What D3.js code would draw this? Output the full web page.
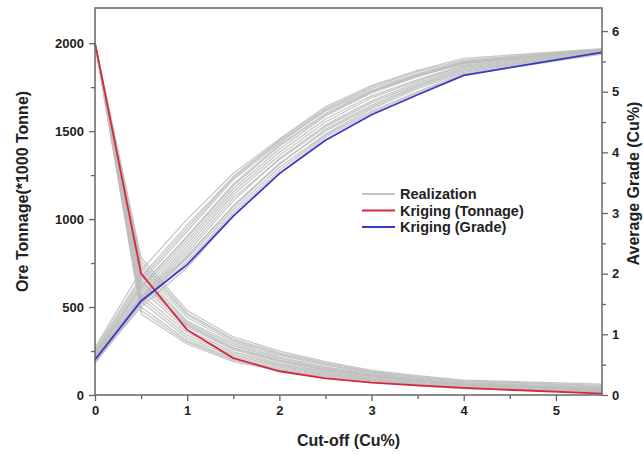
<!DOCTYPE html>
<html>
<head>
<meta charset="utf-8">
<script src="https://cdn.jsdelivr.net/npm/d3@7"></script>
<style>
  body { margin: 0; background: #fff; }
  text { font-family: "Liberation Sans", Arial, sans-serif; font-weight: bold; fill: #222; }
</style>
</head>
<body>
<script>
const width = 643;
const height = 455;

// cut-off grades (Cu%)
const cutoffs = [0, 0.5, 1, 1.5, 2, 2.5, 3, 3.5, 4, 5.5];

// kriging results
const krigTonnage = [2000, 690, 370, 210, 135, 95, 70, 55, 40, 8];
const krigGrade = [0.58, 1.55, 2.15, 2.95, 3.65, 4.2, 4.62, 4.95, 5.27, 5.65];

// realizations, tonnage (*1000 t)
const realTonnage = [
  [2000, 780, 480, 330, 250, 190, 140, 110, 85, 62],
  [2000, 720, 440, 300, 225, 170, 125, 95, 70, 45],
  [2000, 650, 400, 270, 200, 150, 110, 82, 60, 35],
  [2000, 600, 370, 245, 180, 135, 98, 72, 52, 28],
  [2000, 550, 340, 225, 165, 120, 88, 64, 45, 22],
  [2000, 500, 310, 205, 150, 110, 80, 58, 40, 18],
  [2000, 460, 290, 190, 138, 100, 72, 52, 36, 15],
  [2000, 700, 420, 290, 215, 160, 118, 90, 66, 40],
  [2000, 620, 385, 258, 190, 142, 104, 78, 56, 30],
  [2000, 760, 465, 318, 240, 182, 134, 104, 80, 55],
  [2000, 530, 325, 215, 158, 116, 84, 60, 42, 20],
  [2000, 680, 410, 280, 208, 155, 114, 86, 63, 38],
  [2000, 480, 300, 198, 144, 105, 76, 55, 38, 16],
  [2000, 740, 455, 310, 232, 176, 130, 100, 76, 50],
  [2000, 570, 355, 235, 172, 128, 93, 68, 48, 25],
  [2000, 640, 395, 265, 196, 146, 107, 80, 58, 32]
];

// realizations, average grade (Cu%)
const realGrade = [
  [0.55, 1.45, 2.10, 2.95, 3.65, 4.25, 4.65, 4.98, 5.28, 5.62],
  [0.60, 1.60, 2.35, 3.20, 3.90, 4.45, 4.85, 5.15, 5.40, 5.66],
  [0.65, 1.75, 2.55, 3.40, 4.05, 4.60, 4.98, 5.25, 5.47, 5.68],
  [0.70, 1.85, 2.70, 3.55, 4.15, 4.70, 5.05, 5.30, 5.50, 5.70],
  [0.58, 1.55, 2.25, 3.05, 3.75, 4.30, 4.72, 5.05, 5.32, 5.64],
  [0.62, 1.65, 2.45, 3.30, 3.95, 4.50, 4.90, 5.18, 5.42, 5.67],
  [0.75, 1.95, 2.80, 3.60, 4.20, 4.72, 5.08, 5.33, 5.52, 5.70],
  [0.52, 1.50, 2.20, 3.00, 3.70, 4.28, 4.68, 5.00, 5.30, 5.63],
  [0.68, 1.80, 2.60, 3.45, 4.10, 4.62, 5.00, 5.26, 5.46, 5.68],
  [0.63, 1.70, 2.50, 3.35, 4.00, 4.55, 4.93, 5.20, 5.44, 5.67],
  [0.57, 1.58, 2.30, 3.10, 3.80, 4.38, 4.78, 5.10, 5.36, 5.65],
  [0.72, 1.90, 2.75, 3.58, 4.18, 4.68, 5.02, 5.28, 5.49, 5.69],
  [0.60, 1.62, 2.40, 3.25, 3.88, 4.42, 4.82, 5.12, 5.38, 5.65],
  [0.66, 1.78, 2.62, 3.48, 4.12, 4.64, 5.01, 5.27, 5.48, 5.68],
  [0.54, 1.52, 2.28, 3.12, 3.82, 4.35, 4.75, 5.08, 5.34, 5.64],
  [0.78, 2.05, 2.90, 3.65, 4.22, 4.75, 5.10, 5.35, 5.55, 5.71]
];

const xTicks = [0, 1, 2, 3, 4, 5];
const tonTicks = [0, 500, 1000, 1500, 2000];
const gradeTicks = [0, 1, 2, 3, 4, 5, 6];

const legendItems = [
  { name: 'Realization', color: '#c4c4c4' },
  { name: 'Kriging (Tonnage)', color: '#d8283f' },
  { name: 'Kriging (Grade)', color: '#3838c8' }
];

const margin = { left: 95, right: 41, top: 8, bottom: 60 };

const x = d3.scaleLinear().domain([0, 5.5]).range([margin.left, width - margin.right]);
const yTon = d3.scaleLinear().domain([0, 2200]).range([height - margin.bottom, margin.top]);
const yGrade = d3.scaleLinear().domain([0, 6.38]).range([height - margin.bottom, margin.top]);

const svg = d3.select('body').append('svg')
  .attr('width', width)
  .attr('height', height);

const lineTon = d3.line().x((d, i) => x(cutoffs[i])).y(d => yTon(d));
const lineGrade = d3.line().x((d, i) => x(cutoffs[i])).y(d => yGrade(d));

// grey realizations
const real = svg.append('g')
  .attr('fill', 'none')
  .attr('stroke', '#bdbdbd')
  .attr('stroke-width', 1.3)
  .attr('stroke-opacity', 0.85);

real.selectAll('path.t')
  .data(realTonnage)
  .enter()
  .append('path')
  .attr('class', 't')
  .attr('d', lineTon);

real.selectAll('path.g')
  .data(realGrade)
  .enter()
  .append('path')
  .attr('class', 'g')
  .attr('d', lineGrade);

// kriging lines
svg.append('path')
  .attr('d', lineTon(krigTonnage))
  .attr('fill', 'none')
  .attr('stroke', '#d8283f')
  .attr('stroke-width', 1.8);

svg.append('path')
  .attr('d', lineGrade(krigGrade))
  .attr('fill', 'none')
  .attr('stroke', '#3838c8')
  .attr('stroke-width', 1.8);

// axes
const axisColor = '#666';
const styleAxis = g => {
  g.select('.domain').remove();
  g.selectAll('.tick line').attr('stroke', axisColor).attr('stroke-width', 1.3);
  g.selectAll('.tick text').attr('font-size', 13).attr('fill', '#333');
};

const bottom = height - margin.bottom;

svg.append('g')
  .attr('transform', `translate(0,${bottom})`)
  .call(d3.axisBottom(x).tickValues(d3.range(0.5, 5.5, 1)).tickSize(4).tickFormat(''))
  .call(styleAxis);
svg.append('g')
  .attr('transform', `translate(0,${bottom})`)
  .call(d3.axisBottom(x).tickValues(xTicks).tickSize(6).tickPadding(5).tickFormat(d3.format('d')))
  .call(styleAxis);

svg.append('g')
  .attr('transform', `translate(${margin.left},0)`)
  .call(d3.axisLeft(yTon).tickValues(d3.range(250, 2200, 500)).tickSize(4).tickFormat(''))
  .call(styleAxis);
svg.append('g')
  .attr('transform', `translate(${margin.left},0)`)
  .call(d3.axisLeft(yTon).tickValues(tonTicks).tickSize(6).tickPadding(5).tickFormat(d3.format('d')))
  .call(styleAxis);

const right = width - margin.right;
svg.append('g')
  .attr('transform', `translate(${right},0)`)
  .call(d3.axisRight(yGrade).tickValues(d3.range(0.5, 6.4, 1)).tickSize(4).tickFormat(''))
  .call(styleAxis);
svg.append('g')
  .attr('transform', `translate(${right},0)`)
  .call(d3.axisRight(yGrade).tickValues(gradeTicks).tickSize(6).tickPadding(4).tickFormat(d3.format('d')))
  .call(styleAxis);

// frame
svg.append('rect')
  .attr('x', margin.left)
  .attr('y', margin.top)
  .attr('width', right - margin.left)
  .attr('height', bottom - margin.top)
  .attr('fill', 'none')
  .attr('stroke', axisColor)
  .attr('stroke-width', 1.5);

// axis titles
svg.append('text')
  .attr('x', (margin.left + right) / 2)
  .attr('y', 446)
  .attr('text-anchor', 'middle')
  .attr('font-size', 16)
  .text('Cut-off (Cu%)');

svg.append('text')
  .attr('transform', `translate(28,${(margin.top + bottom) / 2 - 10}) rotate(-90)`)
  .attr('text-anchor', 'middle')
  .attr('font-size', 16)
  .text('Ore Tonnage(*1000 Tonne)');

svg.append('text')
  .attr('transform', `translate(639,${(margin.top + bottom) / 2 - 18}) rotate(-90)`)
  .attr('text-anchor', 'middle')
  .attr('font-size', 16)
  .text('Average Grade (Cu%)');

// legend
const legend = svg.append('g')
  .attr('transform', 'translate(362,194)');

legend.selectAll('line')
  .data(legendItems)
  .enter()
  .append('line')
  .attr('x1', 0)
  .attr('x2', 33)
  .attr('y1', (d, i) => i * 16.5)
  .attr('y2', (d, i) => i * 16.5)
  .attr('stroke', d => d.color)
  .attr('stroke-width', 1.8);

legend.selectAll('text')
  .data(legendItems)
  .enter()
  .append('text')
  .attr('x', 38)
  .attr('y', (d, i) => i * 16.5 + 5)
  .attr('font-size', 14.5)
  .text(d => d.name);
</script>
</body>
</html>
